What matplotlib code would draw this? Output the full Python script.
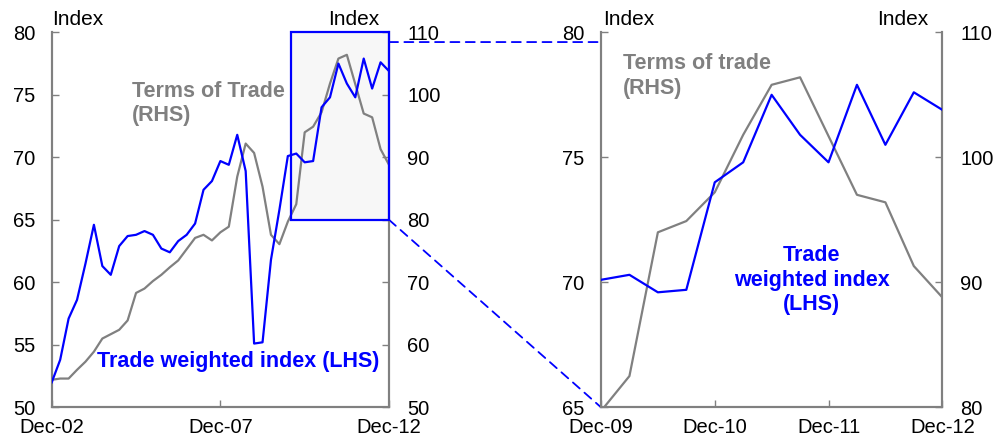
import numpy as np
import pandas as pd
import matplotlib
matplotlib.use('Agg')
import matplotlib.pyplot as plt
from matplotlib.patches import Rectangle, ConnectionPatch

plt.rcParams['font.family'] = ['Liberation Sans', 'DejaVu Sans']
plt.rcParams['font.size'] = 14.5

#%% Data (quarterly, Dec-02 to Dec-12)
quarters = pd.period_range('2002Q4', '2012Q4', freq='Q')

twi = [52.0, 53.8, 57.1, 58.6, 61.5, 64.6, 61.3, 60.6, 62.9, 63.7,
       63.8, 64.1, 63.8, 62.7, 62.4, 63.3, 63.8, 64.7, 67.4, 68.1,
       69.7, 69.4, 71.8, 68.9, 55.1, 55.2, 61.8, 65.8, 70.1, 70.3,
       69.6, 69.7, 74.0, 74.8, 77.5, 75.9, 74.8, 77.9, 75.5, 77.6,
       76.9]

tot = [54.4, 54.6, 54.6, 56.0, 57.3, 58.9, 61.0, 61.7, 62.4, 63.9,
       68.3, 69.0, 70.2, 71.2, 72.4, 73.5, 75.3, 77.1, 77.6, 76.7,
       78.0, 78.9, 86.9, 92.2, 90.7, 85.3, 77.6, 76.1, 79.7, 82.5,
       94.0, 94.9, 97.2, 101.8, 105.8, 106.4, 101.7, 97.0, 96.4, 91.3,
       88.8]

left_ticks = ['Dec-02', 'Dec-07', 'Dec-12']
right_ticks = ['Dec-09', 'Dec-10', 'Dec-11', 'Dec-12']
zoom_start = 'Dec-09'

labels = [q.strftime('%b-%y') for q in quarters]
x = np.arange(len(quarters))
i0 = labels.index(zoom_start)

BLUE = '#0000ff'
GREY = '#808080'


def style_axes(ax, axr):
    for a in (ax, axr):
        a.spines['top'].set_visible(False)
        for s in ('left', 'right', 'bottom'):
            a.spines[s].set_color(GREY)
            a.spines[s].set_linewidth(1.5)
        a.tick_params(direction='in', length=5, width=1, color=GREY)
    ax.tick_params(axis='y', pad=12)
    axr.tick_params(axis='y', pad=13)
    ax.tick_params(axis='x', pad=8)
    ax.set_zorder(1)
    ax.patch.set_visible(False)


fig = plt.figure(figsize=(9.99, 4.45), dpi=100)

########################################
# Left panel: full period
########################################
ax1 = fig.add_axes([0.0518, 0.0847, 0.3376, 0.8427])
ax1r = ax1.twinx()

ax1.plot(x, twi, color=BLUE, lw=1.6, zorder=3)
ax1r.plot(x, tot, color=GREY, lw=1.6, zorder=3)

ax1.set_xlim(0, len(x) - 1)
ax1.set_ylim(50, 80)
ax1r.set_ylim(50, 110)
ax1.set_yticks(np.arange(50, 81, 5))
ax1r.set_yticks(np.arange(50, 111, 10))
ax1.set_xticks([labels.index(t) for t in left_ticks])
ax1.set_xticklabels(left_ticks)
style_axes(ax1, ax1r)

# zoom box: fill behind the RHS line, edge on top
box_x = i0 + 0.4
ax1r.add_patch(Rectangle((box_x, 65), len(x) - 1 - box_x, 15, transform=ax1.transData,
                         facecolor='#f7f7f7', edgecolor='none', zorder=1, clip_on=False))
ax1.add_patch(Rectangle((box_x, 65), len(x) - 1 - box_x, 15, facecolor='none',
                        edgecolor=BLUE, lw=1.6, zorder=4, clip_on=False))

ax1.text(0.0, 1.01, 'Index', transform=ax1.transAxes, ha='left', va='bottom', fontsize=15)
ax1.text(0.97, 1.01, 'Index', transform=ax1.transAxes, ha='right', va='bottom', fontsize=15)
ax1.text(0.238, 0.870, 'Terms of Trade\n(RHS)', transform=ax1.transAxes, ha='left', va='top',
         fontsize=15.5, fontweight='bold', color=GREY)
ax1.text(0.554, 0.123, 'Trade weighted index (LHS)', transform=ax1.transAxes, ha='center',
         va='center', fontsize=15.5, fontweight='bold', color=BLUE)

########################################
# Right panel: Dec-09 to Dec-12
########################################
ax2 = fig.add_axes([0.6016, 0.0847, 0.3416, 0.8427])
ax2r = ax2.twinx()

xs = x[i0:] - i0
ax2.plot(xs, twi[i0:], color=BLUE, lw=1.6, zorder=3)
ax2r.plot(xs, tot[i0:], color=GREY, lw=1.6, zorder=3)

ax2.set_xlim(0, len(xs) - 1)
ax2.set_ylim(65, 80)
ax2r.set_ylim(80, 110)
ax2.set_yticks(np.arange(65, 81, 5))
ax2r.set_yticks(np.arange(80, 111, 10))
ax2.set_xticks([labels.index(t) - i0 for t in right_ticks])
ax2.set_xticklabels(right_ticks)
style_axes(ax2, ax2r)

ax2.text(0.005, 1.01, 'Index', transform=ax2.transAxes, ha='left', va='bottom', fontsize=15)
ax2.text(0.96, 1.01, 'Index', transform=ax2.transAxes, ha='right', va='bottom', fontsize=15)
ax2.text(0.064, 0.944, 'Terms of trade\n(RHS)', transform=ax2.transAxes, ha='left', va='top',
         fontsize=15.5, fontweight='bold', color=GREY)
ax2.text(0.617, 0.339, 'Trade\nweighted index\n(LHS)', transform=ax2.transAxes, ha='center',
         va='center', fontsize=15.5, fontweight='bold', color=BLUE, multialignment='center')

########################################
# Dashed connectors between the panels
########################################
for ya, yb in [(0.974, 0.974), (0.5, 0.0)]:
    con = ConnectionPatch(xyA=(1.0, ya), coordsA=ax1.transAxes,
                          xyB=(0.0, yb), coordsB=ax2.transAxes,
                          color=BLUE, lw=1.3, linestyle=(0, (5, 3.5)))
    fig.add_artist(con)

fig.savefig('out.png', dpi=100)
